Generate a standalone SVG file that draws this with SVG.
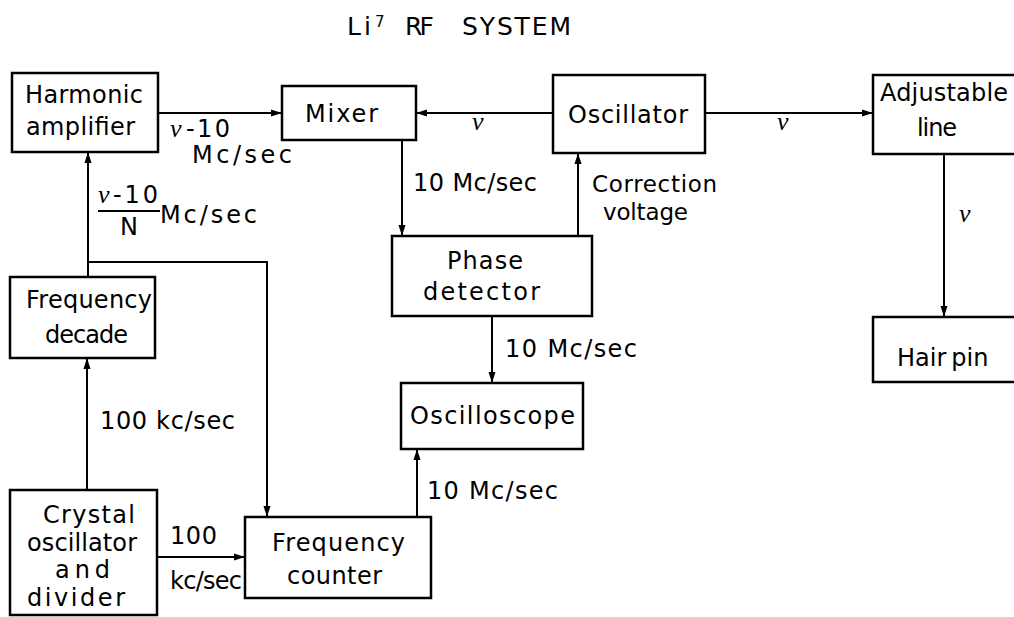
<svg xmlns="http://www.w3.org/2000/svg" width="1014" height="617" viewBox="0 0 1014 617">
<style>
.box{fill:none;stroke:#000;stroke-width:2.5}
.ln{fill:none;stroke:#000;stroke-width:2}
text{font-family:"DejaVu Sans","Liberation Sans",Arial,sans-serif;font-size:24px;fill:#000}
.nu{font-family:"Liberation Serif","Times New Roman",serif;font-style:italic;font-size:26px}
.t{font-size:25px}
.sup{font-size:15px}
.cv{font-size:23px}
</style>
<defs>
<marker id="ah" markerUnits="userSpaceOnUse" markerWidth="12" markerHeight="8" refX="11" refY="4" orient="auto">
<path d="M0,0.5 L11,4 L0,7.5 z" fill="#000"/>
</marker>
</defs>
<rect width="1014" height="617" fill="#fff"/>
<text class="t" x="347" y="35" textLength="24">Li</text><text class="sup" x="375" y="27">7</text>
<text class="t" x="405" y="35" textLength="29">RF</text>
<text class="t" x="462" y="35" textLength="109">SYSTEM</text>

<g id="connectors">
<line class="ln" x1="158" y1="113" x2="282" y2="113" marker-end="url(#ah)"/>
<line class="ln" x1="553" y1="113" x2="416" y2="113" marker-end="url(#ah)"/>
<line class="ln" x1="705" y1="113" x2="873" y2="113" marker-end="url(#ah)"/>
<line class="ln" x1="944" y1="154" x2="944" y2="317" marker-end="url(#ah)"/>
<line class="ln" x1="402" y1="140" x2="402" y2="236" marker-end="url(#ah)"/>
<line class="ln" x1="578" y1="236" x2="578" y2="153" marker-end="url(#ah)"/>
<line class="ln" x1="492" y1="316" x2="492" y2="383" marker-end="url(#ah)"/>
<line class="ln" x1="417" y1="517" x2="417" y2="449" marker-end="url(#ah)"/>
<polyline class="ln" points="88,262 267,262 267,517" marker-end="url(#ah)"/>
<line class="ln" x1="88" y1="277" x2="88" y2="152" marker-end="url(#ah)"/>
<line class="ln" x1="87" y1="490" x2="87" y2="358" marker-end="url(#ah)"/>
<line class="ln" x1="157" y1="557" x2="245" y2="557" marker-end="url(#ah)"/>
<text class="nu" x="170" y="137">ν</text><text x="186" y="137" textLength="44">-10</text>
<text x="192" y="163" textLength="100">Mc/sec</text>
<text class="nu" x="98" y="203">ν</text><text x="113" y="203" textLength="45">-10</text>
<line class="ln" x1="98" y1="211" x2="160" y2="211"/>
<text x="120" y="235">N</text>
<text x="160" y="223" textLength="97">Mc/sec</text>
<text class="nu" x="472" y="130">ν</text>
<text class="nu" x="777" y="130">ν</text>
<text class="nu" x="959" y="222">ν</text>
<text x="413" y="191" textLength="124">10 Mc/sec</text>
<text class="cv" x="592" y="192" textLength="125">Correction</text>
<text class="cv" x="603" y="220" textLength="85">voltage</text>
<text x="505" y="357" textLength="132">10 Mc/sec</text>
<text x="427" y="499" textLength="131">10 Mc/sec</text>
<text x="100" y="429" textLength="135">100 kc/sec</text>
<text x="170" y="544" textLength="47">100</text>
<text x="170" y="589" textLength="72">kc/sec</text>
</g>

<g id="harmonic">
<rect class="box" x="12" y="73" width="146" height="79"/>
<text x="25" y="103" textLength="118">Harmonic</text>
<text x="26" y="135" textLength="109">amplifier</text>
</g>
<g id="mixer">
<rect class="box" x="282" y="86" width="134" height="54"/>
<text x="305" y="122" textLength="73">Mixer</text>
</g>
<g id="oscillator">
<rect class="box" x="553" y="75" width="152" height="78"/>
<text x="568" y="123" textLength="120">Oscillator</text>
</g>
<g id="adjustable">
<rect class="box" x="873" y="75" width="150" height="79"/>
<text x="880" y="101" textLength="128">Adjustable</text>
<text x="917" y="136" textLength="40">line</text>
</g>
<g id="hairpin">
<rect class="box" x="873" y="317" width="150" height="65"/>
<text x="897" y="366">Hair<tspan dx="5">pin</tspan></text>
</g>
<g id="phase">
<rect class="box" x="392" y="236" width="200" height="80"/>
<text x="447" y="269" textLength="76">Phase</text>
<text x="423" y="300" textLength="117">detector</text>
</g>
<g id="oscilloscope">
<rect class="box" x="401" y="383" width="182" height="66"/>
<text x="410" y="424" textLength="165">Oscilloscope</text>
</g>
<g id="counter">
<rect class="box" x="245" y="517" width="186" height="81"/>
<text x="272" y="551" textLength="133">Frequency</text>
<text x="287" y="584" textLength="95">counter</text>
</g>
<g id="decade">
<rect class="box" x="10" y="277" width="145" height="81"/>
<text x="26" y="308" textLength="126">Frequency</text>
<text x="45" y="343" textLength="83">decade</text>
</g>
<g id="crystal">
<rect class="box" x="10" y="490" width="147" height="125"/>
<text x="43" y="523" textLength="92">Crystal</text>
<text x="27" y="551" textLength="110">oscillator</text>
<text x="55" y="578" textLength="55">and</text>
<text x="27" y="606" textLength="98">divider</text>
</g>
</svg>
